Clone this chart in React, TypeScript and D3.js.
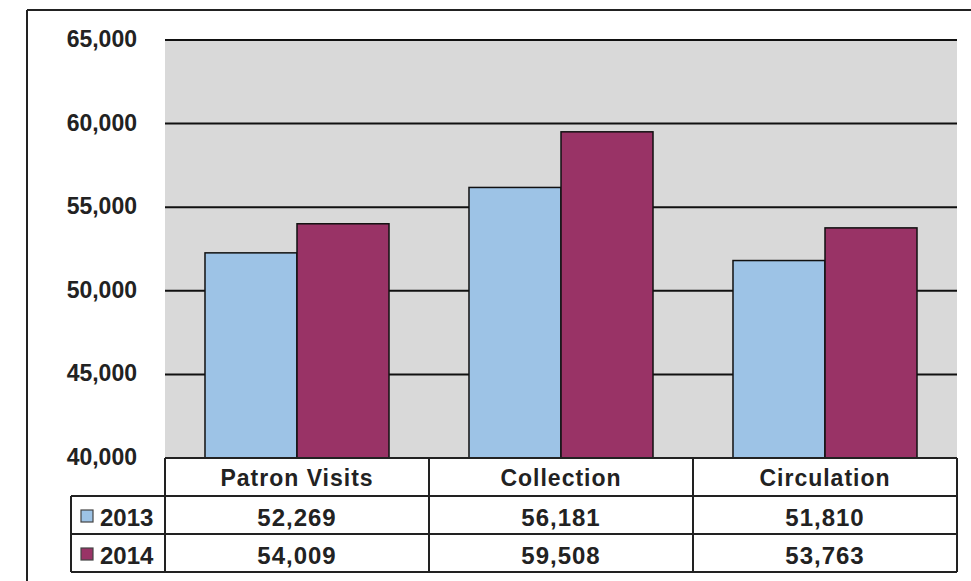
import React from "react";
import * as d3 from "d3";

const categories = ["Patron Visits", "Collection", "Circulation"];
const seriesNames = ["2013", "2014"];
const values2013 = [52269, 56181, 51810];
const values2014 = [54009, 59508, 53763];
const yTicks = [40000, 45000, 50000, 55000, 60000, 65000];
const colors = ["#9DC3E6", "#993366"];

const W = 971;
const H = 581;
const plotLeft = 165;
const plotRight = 957;
const plotTop = 40;
const plotBottom = 458;
const legendLeft = 71;
const rowH = 38;
const FONT = "'Liberation Sans', Arial, sans-serif";

export default function App() {
  const series = [values2013, values2014];
  const y = d3.scaleLinear().domain([40000, 65000]).range([plotBottom, plotTop]);
  const x0 = d3
    .scaleBand<string>()
    .domain(categories)
    .range([plotLeft, plotRight])
    .paddingInner(0.303)
    .paddingOuter(0.1515);
  const x1 = d3.scaleBand<string>().domain(seriesNames).range([0, x0.bandwidth()]);
  const cols = d3.scaleBand<string>().domain(categories).range([plotLeft, plotRight]);
  const fmt = d3.format(",");

  const headerTop = plotBottom;
  const tableBottom = headerTop + rowH * 3;

  return (
    <svg
      width={W}
      height={H}
      style={{ position: "absolute", left: 0, top: 0, background: "#fff" }}
      fontFamily={FONT}
    >
      {/* frame */}
      <line x1={27} y1={10} x2={W} y2={10} stroke="#222" strokeWidth={2} />
      <line x1={27} y1={10} x2={27} y2={H} stroke="#222" strokeWidth={2} />

      {/* plot background */}
      <rect x={plotLeft} y={plotTop} width={plotRight - plotLeft} height={plotBottom - plotTop} fill="#D9D9D9" />

      {/* gridlines */}
      {yTicks.map((t) => (
        <line key={t} x1={plotLeft} x2={plotRight} y1={y(t)} y2={y(t)} stroke="#111" strokeWidth={2} />
      ))}

      {/* y labels */}
      {yTicks.map((t) => (
        <text
          key={"l" + t}
          x={137}
          y={y(t) - 1}
          textAnchor="end"
          dominantBaseline="central"
          fontSize={23}
          fontWeight="bold"
          fill="#222"
        >
          {fmt(t)}
        </text>
      ))}

      {/* bars */}
      {categories.map((c, i) => (
        <g key={c} transform={`translate(${x0(c)},0)`}>
          {seriesNames.map((s, j) => (
            <rect
              key={s}
              x={x1(s)}
              y={y(series[j][i])}
              width={x1.bandwidth()}
              height={plotBottom - y(series[j][i])}
              fill={colors[j]}
              stroke="#111"
              strokeWidth={1.5}
            />
          ))}
        </g>
      ))}

      {/* data table */}
      <rect x={plotLeft} y={headerTop} width={plotRight - plotLeft} height={rowH} fill="#fff" />
      <rect x={legendLeft} y={headerTop + rowH} width={plotRight - legendLeft} height={rowH * 2} fill="#fff" />
      <line x1={plotLeft} x2={plotRight} y1={headerTop} y2={headerTop} stroke="#222" strokeWidth={2} />
      {[1, 2, 3].map((r) => (
        <line
          key={"h" + r}
          x1={legendLeft}
          x2={plotRight}
          y1={headerTop + rowH * r}
          y2={headerTop + rowH * r}
          stroke="#222"
          strokeWidth={2}
        />
      ))}
      <line x1={legendLeft} x2={legendLeft} y1={headerTop + rowH} y2={tableBottom} stroke="#222" strokeWidth={2} />
      {[...categories.map((c) => cols(c) as number), plotRight].map((xv, k) => (
        <line key={"v" + k} x1={xv} x2={xv} y1={headerTop} y2={tableBottom} stroke="#222" strokeWidth={2} />
      ))}

      {categories.map((c) => (
        <text
          key={"c" + c}
          x={(cols(c) as number) + cols.bandwidth() / 2}
          y={headerTop + 28}
          textAnchor="middle"
          fontSize={23}
          fontWeight="bold"
          letterSpacing={1}
          fill="#222"
        >
          {c}
        </text>
      ))}

      {seriesNames.map((s, j) => {
        const rowTop = headerTop + rowH * (j + 1);
        return (
          <g key={"r" + s}>
            <rect x={81} y={rowTop + 14} width={12} height={12} fill={colors[j]} stroke="#444" strokeWidth={1.2} />
            <text x={100} y={rowTop + 30} fontSize={24} fontWeight="bold" fill="#222">
              {s}
            </text>
            {categories.map((c, i) => (
              <text
                key={c}
                x={(cols(c) as number) + cols.bandwidth() / 2}
                y={rowTop + 30}
                textAnchor="middle"
                fontSize={24}
                fontWeight="bold"
                letterSpacing={1}
                fill="#222"
              >
                {fmt(series[j][i])}
              </text>
            ))}
          </g>
        );
      })}
    </svg>
  );
}
